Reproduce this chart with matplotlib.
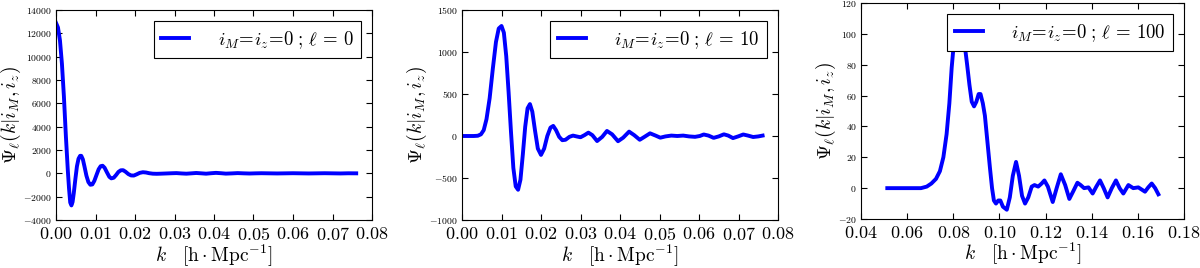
import numpy as np
import matplotlib
matplotlib.use('Agg')
import matplotlib.pyplot as plt
from matplotlib.ticker import MultipleLocator, FuncFormatter

plt.rcParams['mathtext.fontset'] = 'cm'
plt.rcParams['font.family'] = 'serif'
plt.rcParams['font.serif'] = ['cmr10', 'DejaVu Serif']

# ell = 0
k_l0 = [0.0000, 0.0005, 0.0010, 0.0015, 0.0020, 0.0025, 0.0030, 0.0033, 0.0036, 0.0039,
        0.0042, 0.0045, 0.0049, 0.0053, 0.0057, 0.0061, 0.0064, 0.0068, 0.0072, 0.0077,
        0.0082, 0.0087, 0.0092, 0.0097, 0.0103, 0.0108, 0.0113, 0.0118, 0.0123, 0.0129,
        0.0135, 0.0140, 0.0146, 0.0152, 0.0158, 0.0164, 0.0170, 0.0176, 0.0183, 0.0190,
        0.0197, 0.0204, 0.0212, 0.0220, 0.0228, 0.0236, 0.0245, 0.0255, 0.0265, 0.0280,
        0.0295, 0.0305, 0.0318, 0.0330, 0.0343, 0.0355, 0.0368, 0.0380, 0.0393, 0.0405,
        0.0418, 0.0430, 0.0445, 0.0460, 0.0475, 0.0490, 0.0505, 0.0520, 0.0540, 0.0560,
        0.0580, 0.0600, 0.0620, 0.0640, 0.0660, 0.0680, 0.0700, 0.0720, 0.0740, 0.0760]
psi_l0 = [12900, 12500, 11400, 9400, 6600, 3200, 200, -1300, -2500, -2750,
          -2450, -1700, -500, 600, 1250, 1500, 1500, 1200, 600, -200,
          -750, -980, -950, -650, -100, 350, 610, 650, 480, 80,
          -300, -430, -380, -150, 120, 260, 270, 140, -60, -180,
          -190, -90, 40, 95, 70, 10, -30, -40, -30, -10,
          10, 20, -10, -30, 0, 30, 0, -30, 10, 40,
          10, -25, -5, 20, 0, -15, 0, 10, 0, -10,
          0, 10, 0, -10, 0, 10, 0, -10, 5, 0]

# ell = 10
k_l10 = [0.0000, 0.0030, 0.0040, 0.0048, 0.0055, 0.0062, 0.0070, 0.0078, 0.0086, 0.0093,
         0.0100, 0.0106, 0.0112, 0.0118, 0.0124, 0.0130, 0.0136, 0.0142, 0.0148, 0.0154,
         0.0160, 0.0166, 0.0172, 0.0178, 0.0185, 0.0192, 0.0200, 0.0208, 0.0216, 0.0224,
         0.0231, 0.0238, 0.0246, 0.0254, 0.0262, 0.0272, 0.0281, 0.0290, 0.0300, 0.0310,
         0.0320, 0.0330, 0.0342, 0.0355, 0.0367, 0.0380, 0.0395, 0.0408, 0.0423, 0.0436,
         0.0450, 0.0462, 0.0476, 0.0490, 0.0502, 0.0515, 0.0530, 0.0545, 0.0560, 0.0575,
         0.0590, 0.0602, 0.0612, 0.0624, 0.0637, 0.0650, 0.0663, 0.0674, 0.0686, 0.0699,
         0.0712, 0.0724, 0.0737, 0.0750, 0.0761]
psi_l10 = [0, 0, 3, 20, 70, 200, 450, 800, 1120, 1280,
           1310, 1230, 950, 520, 50, -380, -600, -640, -520, -220,
           110, 330, 380, 290, 60, -150, -225, -150, 0, 100,
           120, 70, -10, -50, -45, -10, 5, -5, -15, 10,
           40, 10, -60, -10, 60, 20, -62, -20, 52, 10,
           -45, -10, 32, 5, -20, -5, 5, 0, 5, -5,
           -10, 0, 18, 5, -22, -5, 20, 5, -25, -5,
           18, 5, -12, -5, 5]

# ell = 100
k_l100 = [0.0514, 0.0600, 0.0660, 0.0685, 0.0705, 0.0725, 0.0742, 0.0757, 0.0771, 0.0783,
          0.0793, 0.0803, 0.0812, 0.0822, 0.0832, 0.0842, 0.0851, 0.0860, 0.0870, 0.0880,
          0.0890, 0.0900, 0.0910, 0.0918, 0.0928, 0.0937, 0.0948, 0.0959, 0.0968, 0.0976,
          0.0985, 0.0995, 0.1004, 0.1015, 0.1032, 0.1045, 0.1058, 0.1072, 0.1085, 0.1098,
          0.1111, 0.1125, 0.1140, 0.1152, 0.1168, 0.1183, 0.1195, 0.1210, 0.1231, 0.1248,
          0.1266, 0.1285, 0.1303, 0.1320, 0.1338, 0.1352, 0.1367, 0.1386, 0.1404, 0.1420,
          0.1436, 0.1452, 0.1469, 0.1487, 0.1505, 0.1521, 0.1537, 0.1559, 0.1580, 0.1602,
          0.1631, 0.1645, 0.1660, 0.1675, 0.1689]
psi_l100 = [0, 0, 0, 1, 3, 6, 11, 20, 35, 55,
            78, 95, 104, 108, 107, 100, 91, 80, 67, 56,
            53, 56, 61, 61, 55, 47, 30, 13, 0, -8,
            -10, -8, -8, -12, -14, -6, 8, 17, 8, -5,
            -10, -6, 1, 2, 1, 3, 5, 1, -9, 0,
            9, 2, -7, -2, 3.5, 2, 0, 0.5, -3.5, 1,
            5, 0, -6, 0, 5, 0, -3.5, 2, 0, 0.5,
            -2.3, 0.5, 3, 0, -4]

labels = [r'$i_M\!=\!i_z\!=\!0\;;\,\ell\,=\,0$',
          r'$i_M\!=\!i_z\!=\!0\;;\,\ell\,=\,10$',
          r'$i_M\!=\!i_z\!=\!0\;;\,\ell\,=\,100$']

fig = plt.figure(figsize=(12, 2.68), dpi=100)
# posizioni dei tre pannelli (in pixel della figura)
boxes = [(56, 372, 10, 220), (462, 778, 10, 220), (861, 1184, 3, 219)]
setups = [
    (k_l0, psi_l0, (0, 0.08), 0.01, (-4000, 14000), 2000),
    (k_l10, psi_l10, (0, 0.08), 0.01, (-1000, 1500), 500),
    (k_l100, psi_l100, (0.04, 0.18), 0.02, (-20, 120), 20),
]

for i in range(3):
    x0, x1, y0, y1 = boxes[i]
    ax = fig.add_axes([x0 / 1200, (268 - y1) / 268, (x1 - x0) / 1200, (y1 - y0) / 268])
    k, psi, xlim, xstep, ylim, ystep = setups[i]
    ax.plot(k, psi, color='#0000ff', lw=2.8, label=labels[i])
    ax.set_xlim(*xlim)
    ax.set_ylim(*ylim)
    ax.xaxis.set_major_locator(MultipleLocator(xstep))
    ax.yaxis.set_major_locator(MultipleLocator(ystep))
    ax.xaxis.set_major_formatter(FuncFormatter(lambda v, p: r'$%.2f$' % v))
    ax.yaxis.set_major_formatter(FuncFormatter(lambda v, p: r'$%d$' % round(v)))
    ax.tick_params(direction='in', top=True, right=True, length=4, width=0.8)
    ax.tick_params(axis='x', labelsize=13, pad=4)
    ax.tick_params(axis='y', labelsize=7, pad=3)
    ax.set_xlabel(r'$k\quad[\mathrm{h}\cdot\mathrm{Mpc}^{-1}]$', fontsize=14, labelpad=0)
    ax.set_ylabel(r'$\Psi_\ell(k|i_M,i_z)$', fontsize=14, labelpad=0)
    leg = ax.legend(loc='upper right', fontsize=13.5, fancybox=False, framealpha=1,
                    edgecolor='black', handlelength=1.5, handletextpad=1.5,
                    borderaxespad=0.6, borderpad=0.4)
    leg.get_frame().set_linewidth(0.8)

plt.savefig('out.png', dpi=100)
